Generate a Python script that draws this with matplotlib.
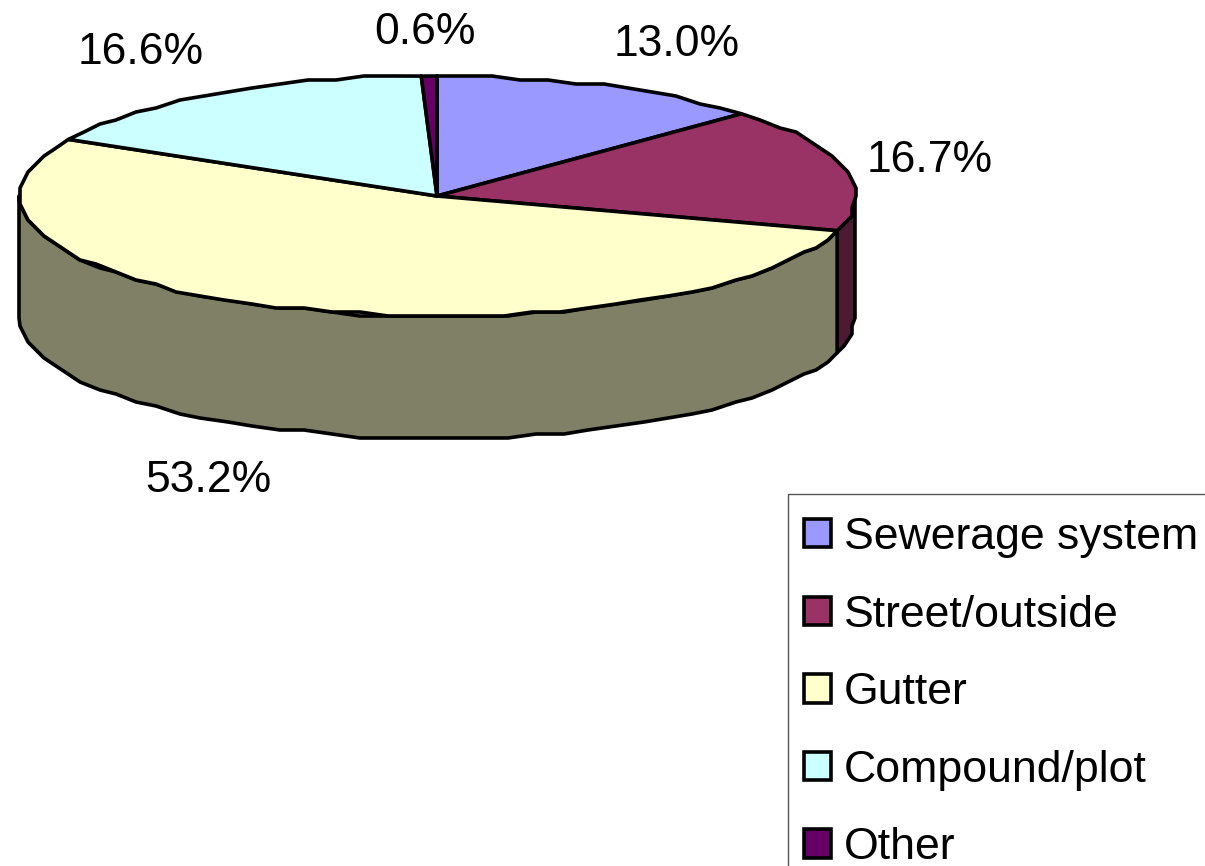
import numpy as np
import matplotlib
matplotlib.use("Agg")
import matplotlib.pyplot as plt
from matplotlib.patches import Patch, Rectangle

plt.rcParams['font.family'] = ['Liberation Sans', 'DejaVu Sans']

categories = ["Sewerage system", "Street/outside", "Gutter", "Compound/plot", "Other"]
values = [13.0, 16.7, 53.2, 16.6, 0.6]
labels = ["13.0%", "16.7%", "53.2%", "16.6%", "0.6%"]
face_colors = ["#9999FF", "#993366", "#FFFFCC", "#CCFFFF", "#660066"]
side_colors = ["#4D4D80", "#4D1A33", "#808066", "#668080", "#330033"]

W, H = 1205, 866
CX, CY, RX, RY, DEPTH = 437, 196, 418, 120, 122
LW = 2.6
SNAP = 4      # the reference outline is faintly stepped, as in a low-resolution rendering
STEP_DEG = 4  # spacing of the outline's vertices along the rim

fig = plt.figure(figsize=(W / 100, H / 100), dpi=100)
ax = fig.add_axes([0, 0, 1, 1])
ax.set_xlim(0, W)
ax.set_ylim(H, 0)
ax.axis("off")


def rim(t0, t1):
    n = max(2, int(round((t1 - t0) / STEP_DEG)) + 1)
    t = np.radians(np.linspace(t0, t1, n))
    x = CX + RX * np.sin(t)
    y = CY - RY * np.cos(t)
    xs = np.round(x / SNAP) * SNAP
    ys = np.round(y / SNAP) * SNAP
    # keep the true end points so that slices still meet exactly
    xs[[0, -1]] = x[[0, -1]]
    ys[[0, -1]] = y[[0, -1]]
    return xs, ys


fractions = np.array(values) / sum(values)
edges = np.concatenate([[0], np.cumsum(fractions) * 360])

# Side walls (only the front half of the rim, 90..270 deg, is visible)
for i in range(len(values)):
    a, b = max(edges[i], 90), min(edges[i + 1], 270)
    if a >= b:
        continue
    x, y = rim(a, b)
    ax.fill(np.r_[x, x[::-1]], np.r_[y, y[::-1] + DEPTH],
            facecolor=side_colors[i], edgecolor="black", lw=LW, joinstyle="round", zorder=1)

# Top faces
for i in range(len(values)):
    x, y = rim(edges[i], edges[i + 1])
    ax.fill(np.r_[CX, x], np.r_[CY, y],
            facecolor=face_colors[i], edgecolor="black", lw=LW, joinstyle="round", zorder=2)

# Percentage labels
label_pos = [(677, 45), (930, 160), (208, 481), (141, 52), (425, 33)]
for s, (x, y) in zip(labels, label_pos):
    ax.text(x, y, s, fontsize=32, ha="center", va="center", color="black", zorder=3)

# Legend frame runs off the bottom and right of the picture
ax.add_patch(Rectangle((787.5, 493.5), 500, 500, facecolor="white", edgecolor="#555555",
                       lw=1.0, zorder=3))
handles = [Patch(facecolor=c, edgecolor="black", lw=LW) for c in face_colors]
leg = ax.legend(handles, categories, loc="upper left",
                bbox_to_anchor=(804 / W, 1 - 517 / H), bbox_transform=fig.transFigure,
                fontsize=32.1, frameon=False,
                borderaxespad=0, borderpad=0, labelspacing=0.82,
                handlelength=0.6, handleheight=0.6, handletextpad=0.3)
leg.set_zorder(4)

fig.savefig("out.png", dpi=100)
